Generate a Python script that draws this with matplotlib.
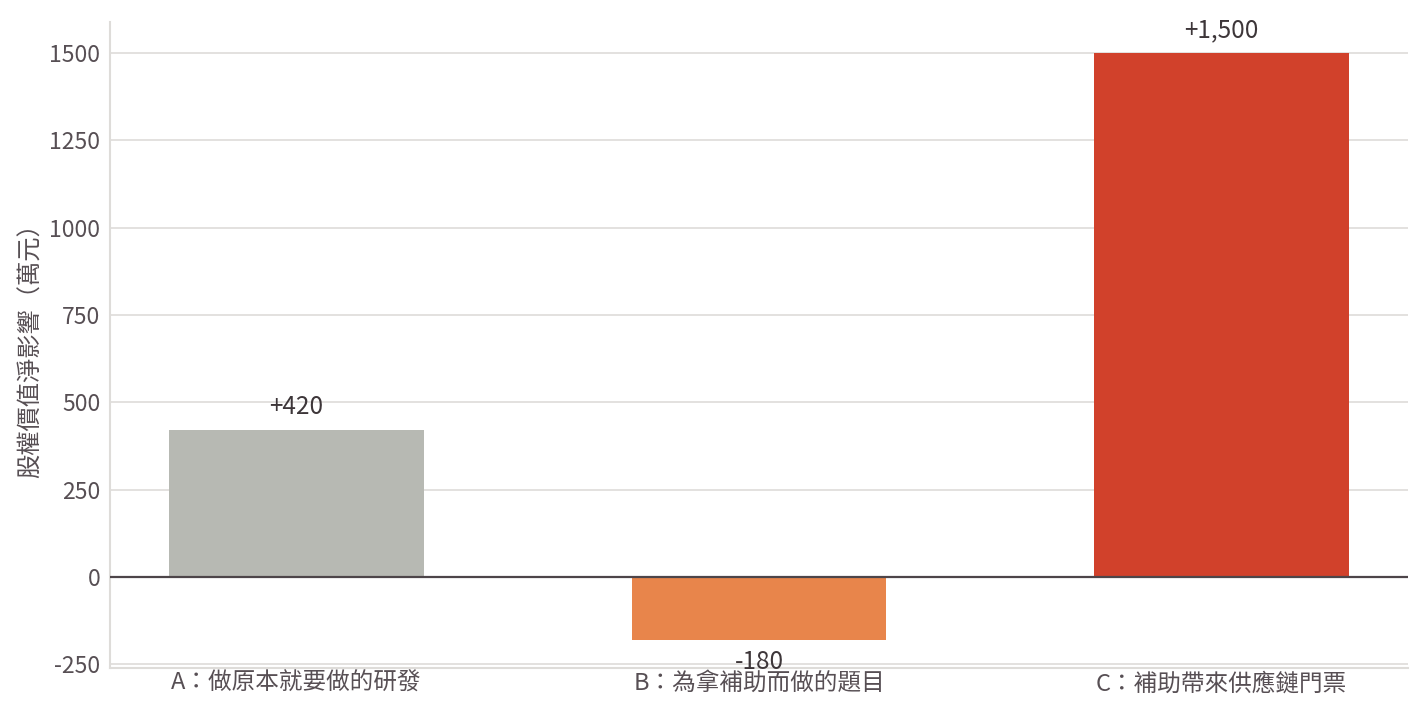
import matplotlib.pyplot as plt

plt.rcParams['font.family'] = ['Noto Sans CJK TC', 'DejaVu Sans']
plt.rcParams['axes.unicode_minus'] = False

categories = ['A：做原本就要做的研發', 'B：為拿補助而做的題目', 'C：補助帶來供應鏈門票']
values = [420, -180, 1500]
valueLabels = ['+420', '-180', '+1,500']
colors = ['#b7b9b3', '#e8854b', '#d1412b']
yTicks = [-250, 0, 250, 500, 750, 1000, 1250, 1500]

textColor = '#574f54'
gridColor = '#dedcd9'

fig = plt.figure(figsize=(14.23, 7.16), dpi=100)
ax = fig.add_axes([110 / 1423, 48 / 716, 1298 / 1423, 646 / 716])

x = list(range(len(categories)))
ax.bar(x, values, width=0.55, color=colors, zorder=3)

for i, v in enumerate(values):
    if v >= 0:
        ax.annotate(valueLabels[i], (i, v), xytext=(0, 7), textcoords='offset points',
                    ha='center', va='bottom', fontsize=17.5, color='#3d3639')
    else:
        ax.annotate(valueLabels[i], (i, v), xytext=(0, -7), textcoords='offset points',
                    ha='center', va='top', fontsize=17.5, color='#3d3639')

ax.axhline(0, color='#4d4549', linewidth=1.6, zorder=4)

ax.set_xlim(-0.403, 2.403)
ax.set_ylim(-261, 1589)
ax.set_yticks(yTicks)
ax.set_xticks(x)
ax.set_xticklabels(categories)
ax.tick_params(axis='both', length=0, colors=textColor)
ax.tick_params(axis='y', pad=7, labelsize=16.5)
ax.tick_params(axis='x', pad=3, labelsize=17.0)
ax.set_ylabel('股權價值淨影響（萬元）', fontsize=17.5, color=textColor, labelpad=4)

ax.grid(axis='y', color=gridColor, linewidth=1.2, zorder=0)
ax.set_axisbelow(True)
for side in ['top', 'right']:
    ax.spines[side].set_visible(False)
for side in ['left', 'bottom']:
    ax.spines[side].set_color(gridColor)
    ax.spines[side].set_linewidth(1.5)

fig.savefig('out.png', dpi=100)
